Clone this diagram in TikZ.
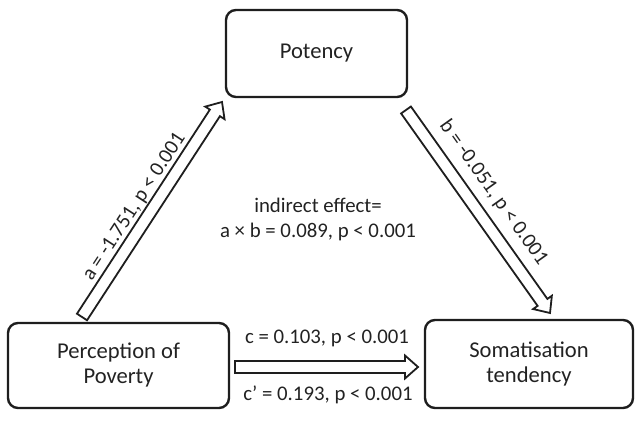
\documentclass[tikz,border=0pt]{standalone}
\usepackage{fontspec}
\setmainfont{Carlito}
\usetikzlibrary{calc}
\definecolor{ink}{HTML}{1E1E1E}
\definecolor{txt}{HTML}{222222}
% fat outlined arrow from #1 to #2
\newcommand{\fatarrow}[2]{%
  \coordinate (fh) at ($(#2)!6.5pt!(#1)$);
  \draw[fat] ($(#1)!3pt!90:(#2)$) -- ($(fh)!3pt!-90:(#1)$) -- ($(fh)!5.75pt!-90:(#1)$)
    -- (#2) -- ($(fh)!5.75pt!90:(#1)$) -- ($(fh)!3pt!90:(#1)$) -- ($(#1)!3pt!-90:(#2)$) -- cycle;}
\begin{document}
\begin{tikzpicture}[x=0.5pt,y=-0.5pt,
  box/.style={draw=ink, line width=1.2pt, rounded corners=5pt, text=txt,
    font=\fontsize{11.3}{12.5}\selectfont, align=center, inner sep=0pt},
  lab/.style={text=txt, font=\fontsize{10.4}{12.5}\selectfont, inner sep=0pt, align=center},
  fat/.style={draw=ink, line width=0.9pt, fill=white, line join=miter}]
\useasboundingbox (0,0) rectangle (641,421);
\node[box, minimum width=90.5pt, minimum height=43.5pt] (pot) at (316.5,53.5) {Potency};
\node[box, minimum width=110.5pt, minimum height=42.5pt] (per) at (118.5,365.5) {Perception of\\Poverty};
\node[box, minimum width=104pt, minimum height=44pt] (som) at (529,364) {Somatisation\\tendency};
\coordinate (aT) at (82,317);
\coordinate (aH) at (222,102);
\coordinate (bT) at (406,110);
\coordinate (bH) at (550,313);
\coordinate (cT) at (235,367);
\coordinate (cH) at (418,367);
\fatarrow{aT}{aH}
\fatarrow{bT}{bH}
\fatarrow{cT}{cH}
\node[lab, rotate=56.9] (al) at (134.5,207) {a = -1.751, p < 0.001};
\node[lab, rotate=-54.6] (bl) at (493.5,192.5) {b = -0.051, p < 0.001};
\node[lab] (cl) at (327,338) {c = 0.103, p < 0.001};
\node[lab] (cpl) at (328,395) {c’ = 0.193, p < 0.001};
\node[lab] (ind) at (318,219.5) {indirect effect=\\a × b = 0.089, p < 0.001};
\end{tikzpicture}
\end{document}
